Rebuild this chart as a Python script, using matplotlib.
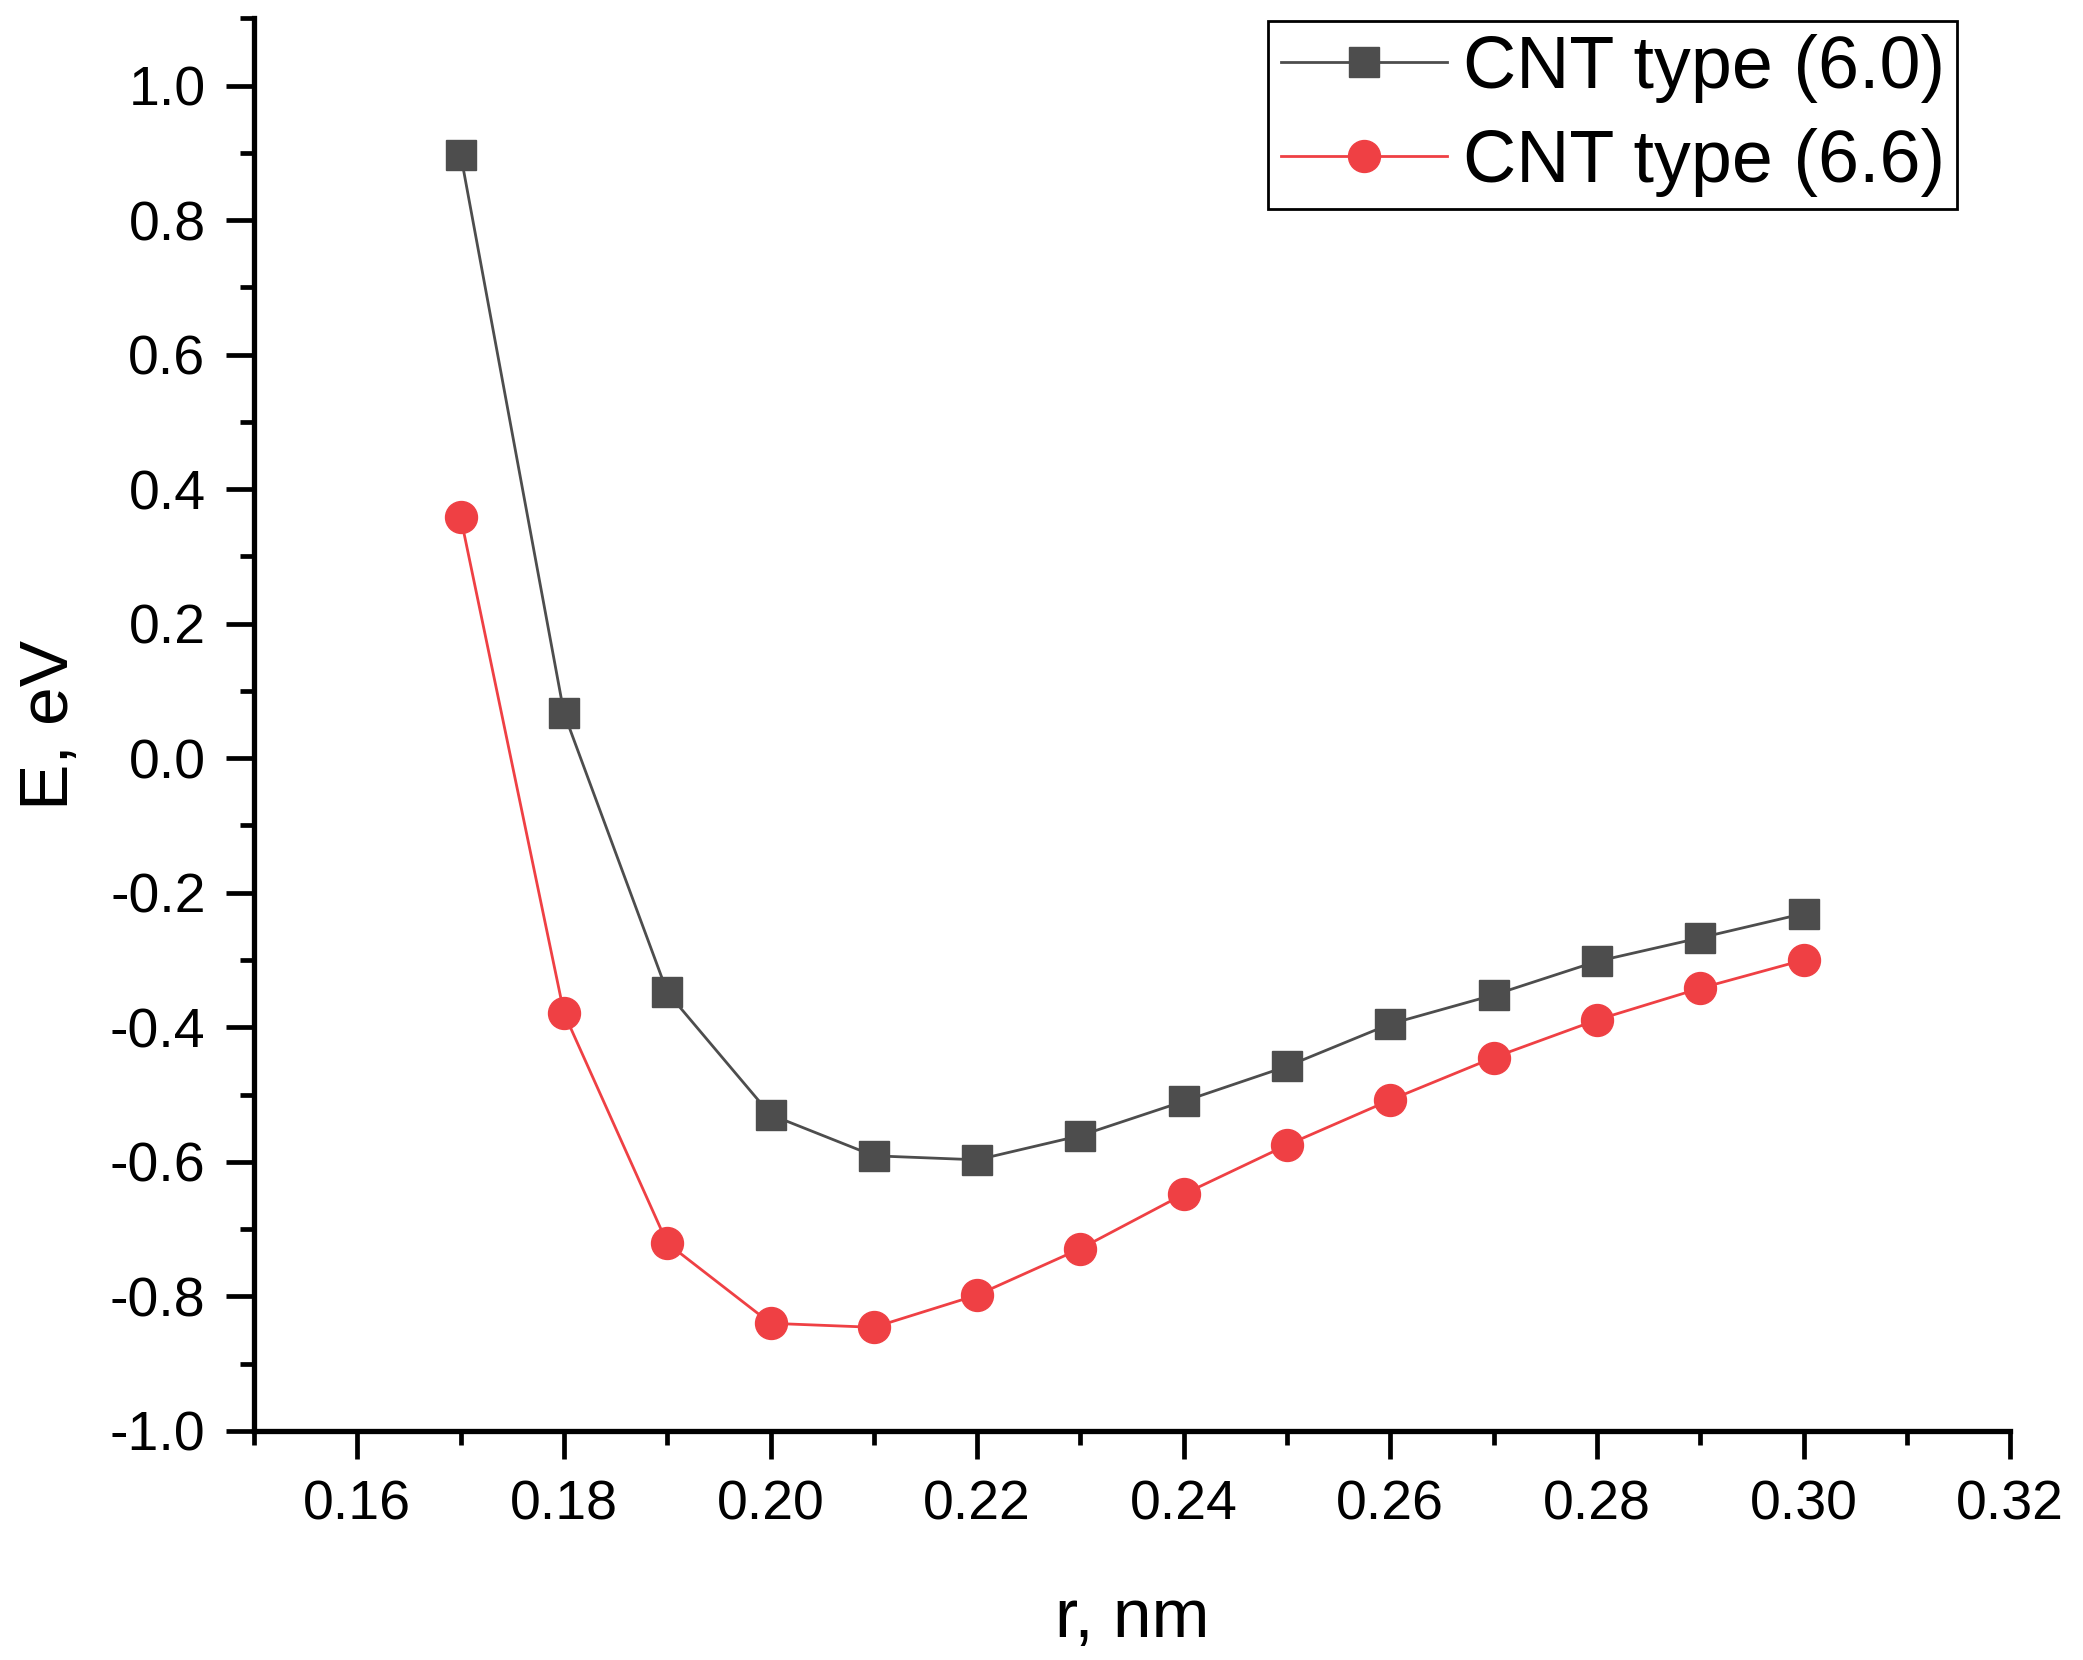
import matplotlib
matplotlib.use("Agg")
import matplotlib.pyplot as plt
from matplotlib.ticker import MultipleLocator, FormatStrFormatter

plt.rcParams['font.family'] = ['Liberation Sans', 'DejaVu Sans']
plt.rcParams['axes.unicode_minus'] = False

r = [0.17, 0.18, 0.19, 0.20, 0.21, 0.22, 0.23, 0.24, 0.25, 0.26, 0.27, 0.28, 0.29, 0.30]
e_60 = [0.897, 0.067, -0.348, -0.530, -0.591, -0.597, -0.561, -0.510, -0.458, -0.395, -0.352, -0.302, -0.267, -0.231]
e_66 = [0.358, -0.379, -0.721, -0.840, -0.846, -0.798, -0.729, -0.648, -0.575, -0.508, -0.445, -0.389, -0.342, -0.300]
labels = ["CNT type (6.0)", "CNT type (6.6)"]

fig = plt.figure(figsize=(20.83, 16.6), dpi=100)
ax = fig.add_axes([0.122, 0.138, 0.843, 0.851])

ax.plot(r, e_60, color='#4d4d4d', lw=2, marker='s', ms=21, label=labels[0])
ax.plot(r, e_66, color='#ef4044', lw=2, marker='o', ms=23, label=labels[1])

ax.set_xlim(0.15, 0.32)
ax.set_ylim(-1.0, 1.1)
ax.xaxis.set_major_locator(MultipleLocator(0.02))
ax.xaxis.set_minor_locator(MultipleLocator(0.01))
ax.yaxis.set_major_locator(MultipleLocator(0.2))
ax.yaxis.set_minor_locator(MultipleLocator(0.1))
ax.xaxis.set_major_formatter(FormatStrFormatter('%.2f'))
ax.yaxis.set_major_formatter(FormatStrFormatter('%.1f'))

for side in ['top', 'right']:
    ax.spines[side].set_visible(False)
for side in ['left', 'bottom']:
    ax.spines[side].set_linewidth(3.8)

ax.tick_params(which='major', direction='out', length=20, width=3.4, labelsize=40, pad=15)
ax.tick_params(which='minor', direction='out', length=10, width=3.4)

ax.set_xlabel("r, nm", fontsize=50, labelpad=40)
ax.set_ylabel("E, eV", fontsize=50, labelpad=20)

leg = ax.legend(loc='upper right', bbox_to_anchor=(0.970, 0.998), borderaxespad=0,
                fontsize=53, fancybox=False, framealpha=1, edgecolor='black',
                handlelength=2.25, handletextpad=0.22, borderpad=0.17, labelspacing=0.34)
leg.get_frame().set_linewidth(2)

fig.savefig("out.png", dpi=100)
